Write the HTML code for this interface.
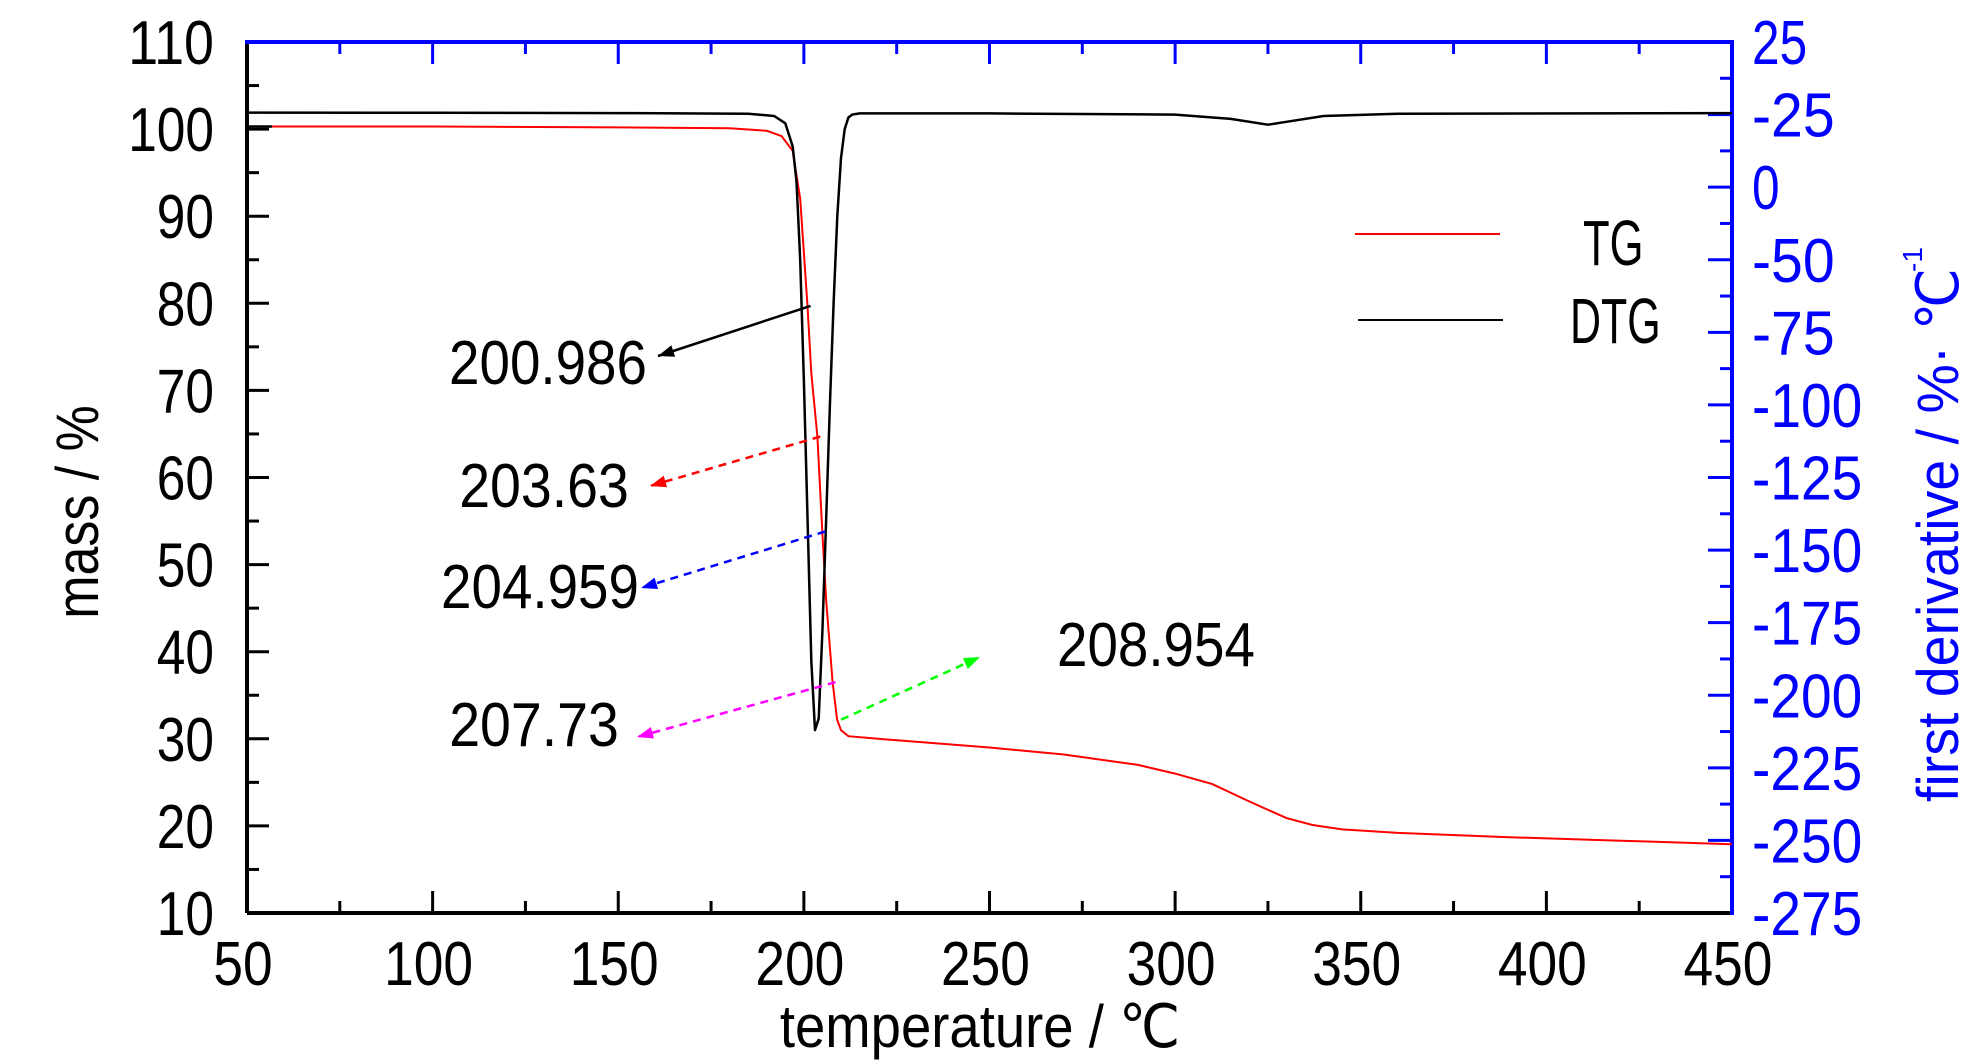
<!DOCTYPE html>
<html><head><meta charset="utf-8"><style>
html,body{margin:0;padding:0;background:#fff;}
svg{display:block;font-family:"Liberation Sans",sans-serif;}
</style></head><body>
<svg id="chart" width="1984" height="1063" viewBox="0 0 1984 1063" xmlns="http://www.w3.org/2000/svg">
<rect x="0" y="0" width="1984" height="1063" fill="#fff"/>
</svg>
<script>
// ---- data ----
const tgTemps = [50,100,150,180,190,194,197,199,200.986,202,203.63,204.959,206,207.73,208.954,210,212,220,250,270,290,300,310,320,330,337,345,360,390,420,450];
const tgMass  = [100.3,100.3,100.2,100.1,99.8,99.2,97.5,92,79.7,72,64.7,53.8,46,36.5,32.2,31,30.3,30,29,28.2,27,26,24.8,22.8,20.9,20.1,19.6,19.2,18.7,18.3,17.9];
const dtgTemps = [50,100,150,185,192,195,197,198,199,200,201,202,203,204,205,206,207,208,209,210,211,212,213,215,250,300,315,325,330,340,360,450];
const dtgVals  = [0.7,0.6,0.5,0.3,-0.5,-3,-11,-23,-50,-92,-140,-188,-212,-208,-178,-140,-100,-65,-35,-15,-5,-1,0,0.4,0.4,0,-1.5,-3.5,-2.5,-0.5,0.3,0.5];
const xTicks = [50,100,150,200,250,300,350,400,450];
const yLeftTicks = [10,20,30,40,50,60,70,80,90,100,110];
const yRightTickValues = [25,0,-25,-50,-75,-100,-125,-150,-175,-200,-225,-250,-275];
const yRightTickLabels = ["25","-25","0","-50","-75","-100","-125","-150","-175","-200","-225","-250","-275"];
const annLabels = ["200.986","203.63","204.959","207.73","208.954"];
const annTemps = [200.986,203.63,204.959,207.73,208.954];

// ---- axes ----
const X0=247,X1=1732,Y0=42,Y1=913;
const xs=t=>X0+(t-50)/400*(X1-X0);
const yl=v=>Y1-(v-10)/100*(Y1-Y0);
const yr=v=>Y0+(25-v)/300*(Y1-Y0);
function interp(xa,ya,t){for(let i=1;i<xa.length;i++){if(t<=xa[i]){const f=(t-xa[i-1])/(xa[i]-xa[i-1]);return ya[i-1]+f*(ya[i]-ya[i-1]);}}return ya[ya.length-1];}

const svg=document.getElementById('chart');
const NS='http://www.w3.org/2000/svg';
function mk(tag,attrs){const e=document.createElementNS(NS,tag);for(const k in attrs)e.setAttribute(k,attrs[k]);svg.appendChild(e);return e;}
function txt(s,x,y,fs,fill,anchor,wf){const e=mk('text',{x:x,y:y,'font-size':fs,fill:fill,'text-anchor':anchor});e.textContent=s;e.setAttribute('textLength',(s.length*0.556*fs*wf).toFixed(1));e.setAttribute('lengthAdjust','spacingAndGlyphs');return e;}

// ticks
for(let t=50;t<=450;t+=25){const major=(t%50===0);
 const l=mk('line',{x1:xs(t),x2:xs(t),y1:Y1,y2:Y1-(major?22:12),stroke:'#000','stroke-width':3});
 
 
 const l2=mk('line',{x1:xs(t),x2:xs(t),y1:Y0,y2:Y0+(major?22:12),stroke:'#00f','stroke-width':3});
 
 }
for(let v=10;v<=110;v+=5){const major=(v%10===0);
 const l=mk('line',{x1:X0,x2:X0+(major?22:12),y1:yl(v),y2:yl(v),stroke:'#000','stroke-width':3});
 
 }
for(let v=25;v>=-275;v-=12.5){const major=(v%25===0);
 const l=mk('line',{x1:X1,x2:X1-(major?24:12),y1:yr(v),y2:yr(v),stroke:'#00f','stroke-width':3});
 
 }
// frame
let f;
f=mk('line',{x1:X0,y1:Y1,x2:X1,y2:Y1,stroke:'#000','stroke-width':4});
f=mk('line',{x1:X0,y1:Y0,x2:X0,y2:Y1,stroke:'#000','stroke-width':4});
f=mk('line',{x1:X0-2,y1:Y0,x2:X1,y2:Y0,stroke:'#00f','stroke-width':4});
f=mk('line',{x1:X1,y1:Y0-2,x2:X1,y2:Y1+2,stroke:'#00f','stroke-width':4});

// tick labels
xTicks.forEach(t=>{const e=txt(String(t),xs(t)-4,985,62,'#000','middle',0.86);
 
 });
yLeftTicks.forEach(v=>{const e=txt(String(v),214,yl(v)+22,62,'#000','end',0.83);
 
 });
yRightTickValues.forEach((v,i)=>{const s=yRightTickLabels[i];const e=txt(s,1752,yr(v)+22,62,'#00f','start',0.8);
 
 });

// axis titles
let at=txt('temperature / ℃',980,1047,60,'#000','middle',0.8);


at=txt('mass / %',0,0,60,'#000','middle',0.8);
at.setAttribute('transform','translate(98,512) rotate(-90)');


at=txt('first derivative / %· ℃',0,0,58,'#00f','start',0.72);
at.setAttribute('transform','translate(1958,802) rotate(-90)');


at=mk('text',{x:0,y:0,'font-size':28,fill:'#00f'});at.textContent='-1';
at.setAttribute('transform','translate(1922,272) rotate(-90)');



// series
let d='';tgTemps.forEach((t,i)=>{d+=(i?'L':'M')+xs(t).toFixed(1)+','+yl(tgMass[i]).toFixed(1);});
let p=mk('path',{d:d,fill:'none',stroke:'#f00','stroke-width':2});


d='';dtgTemps.forEach((t,i)=>{d+=(i?'L':'M')+xs(t).toFixed(1)+','+yr(dtgVals[i]).toFixed(1);});
p=mk('path',{d:d,fill:'none',stroke:'#000','stroke-width':2.5,'stroke-linejoin':'round'});


p=mk('line',{x1:X0,x2:X0+25,y1:yl(100.3),y2:yl(100.3),stroke:'#000','stroke-width':2.5});



// legend
let lg=mk('line',{x1:1355,x2:1500,y1:234,y2:234,stroke:'#f00','stroke-width':2});


lg=txt('TG',1583,265,64,'#000','start',0.85);


lg=mk('line',{x1:1358,x2:1503,y1:320,y2:320,stroke:'#000','stroke-width':2});


lg=txt('DTG',1570,343,64,'#000','start',0.85);



// annotations
const annColors=['#000','#f00','#00f','#f0f','#0f0'];
const annEnds=[[658,356],[650,486],[641,588],[637,737],[980,657]];
const annTextPos=[[548,384],[544,507],[540,608],[534,746],[1057,666]];
annTemps.forEach((t,i)=>{
 const sx=xs(t)+(i===4?4:3), sy=yl(interp(tgTemps,tgMass,t));
 const [ex,ey]=annEnds[i];
 const ln=mk('line',{x1:sx,y1:sy,x2:ex,y2:ey,stroke:annColors[i],'stroke-width':2.5,'stroke-dasharray':i===0?'none':'8,6'});
 
 
 const ang=Math.atan2(ey-sy,ex-sx), L=16,W=6;
 const bx=ex-L*Math.cos(ang), by=ey-L*Math.sin(ang);
 const hd=mk('polygon',{points:`${ex},${ey} ${bx+W*Math.sin(ang)},${by-W*Math.cos(ang)} ${bx-W*Math.sin(ang)},${by+W*Math.cos(ang)}`,fill:annColors[i]});
 
 
 const tx=txt(annLabels[i],annTextPos[i][0],annTextPos[i][1],62,'#000',i===4?'start':'middle',0.82);
 
 
});
</script>
</body></html>
